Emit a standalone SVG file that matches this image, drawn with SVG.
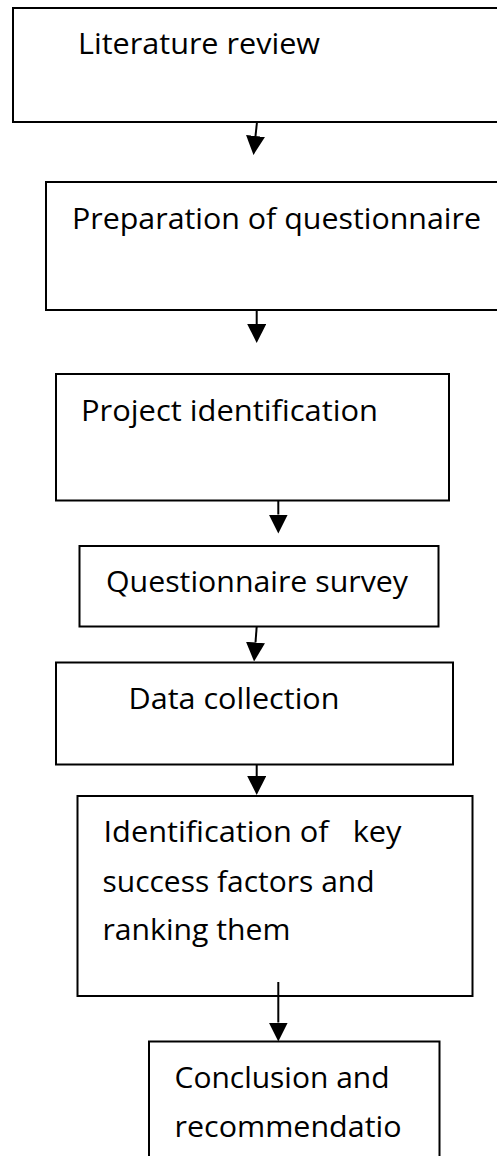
<svg xmlns="http://www.w3.org/2000/svg" width="497" height="1156" viewBox="0 0 497 1156">
<style>
.box{fill:#fff;stroke:#000;stroke-width:2}
.lbl{font-family:"Open Sans","Noto Sans","Liberation Sans",sans-serif;font-size:30px;fill:#000;white-space:pre}
.conn{stroke:#000;stroke-width:2;fill:none}
</style>
<defs>
<marker id="ah" markerUnits="userSpaceOnUse" markerWidth="19" markerHeight="19" refX="0" refY="9.5" orient="auto" viewBox="0 0 19 19">
<path d="M0,0 L19,9.5 L0,19 Z" fill="#000"/>
</marker>
</defs>
<rect width="497" height="1156" fill="#fff"/>
<g id="n1">
<rect class="box" x="13" y="8" width="510" height="114"/>
<text class="lbl" x="78" y="54" textLength="242" lengthAdjust="spacingAndGlyphs">Literature review</text>
</g>
<g id="n2">
<rect class="box" x="46" y="182" width="480" height="128"/>
<text class="lbl" x="72" y="229" textLength="409" lengthAdjust="spacingAndGlyphs">Preparation of questionnaire</text>
</g>
<g id="n3">
<rect class="box" x="56" y="374" width="393" height="126.5"/>
<text class="lbl" x="81" y="421" textLength="297" lengthAdjust="spacingAndGlyphs">Project identification</text>
</g>
<g id="n4">
<rect class="box" x="79.5" y="546" width="359" height="80.5"/>
<text class="lbl" x="106" y="591.5" textLength="302" lengthAdjust="spacingAndGlyphs">Questionnaire survey</text>
</g>
<g id="n5">
<rect class="box" x="56" y="662.5" width="397" height="102"/>
<text class="lbl" x="128.5" y="708.5" textLength="211" lengthAdjust="spacingAndGlyphs">Data collection</text>
</g>
<g id="n6">
<rect class="box" x="77.5" y="796" width="395" height="200"/>
<text class="lbl" x="103.5" y="841.5" textLength="298" lengthAdjust="spacingAndGlyphs">Identification of   key</text>
<text class="lbl" x="102.5" y="891.5" textLength="272" lengthAdjust="spacingAndGlyphs">success factors and</text>
<text class="lbl" x="102.5" y="940" textLength="188" lengthAdjust="spacingAndGlyphs">ranking them</text>
</g>
<g id="n7">
<rect class="box" x="149" y="1041.5" width="290.5" height="130"/>
<text class="lbl" x="174.5" y="1087.5" textLength="215" lengthAdjust="spacingAndGlyphs">Conclusion and</text>
<text class="lbl" x="174.5" y="1136.5" textLength="227" lengthAdjust="spacingAndGlyphs">recommendatio</text>
</g>
<g id="connectors">
<line class="conn" x1="257" y1="122" x2="255.5" y2="136" marker-end="url(#ah)"/>
<line class="conn" x1="256.7" y1="310" x2="256.7" y2="324" marker-end="url(#ah)"/>
<line class="conn" x1="278.3" y1="500.5" x2="278.3" y2="514.5" marker-end="url(#ah)"/>
<line class="conn" x1="256.7" y1="626.5" x2="255.5" y2="642.5" marker-end="url(#ah)"/>
<line class="conn" x1="256.7" y1="764.5" x2="256.7" y2="776" marker-end="url(#ah)"/>
<line class="conn" x1="278.3" y1="982" x2="278.3" y2="1022.5" marker-end="url(#ah)"/>
</g>
</svg>
